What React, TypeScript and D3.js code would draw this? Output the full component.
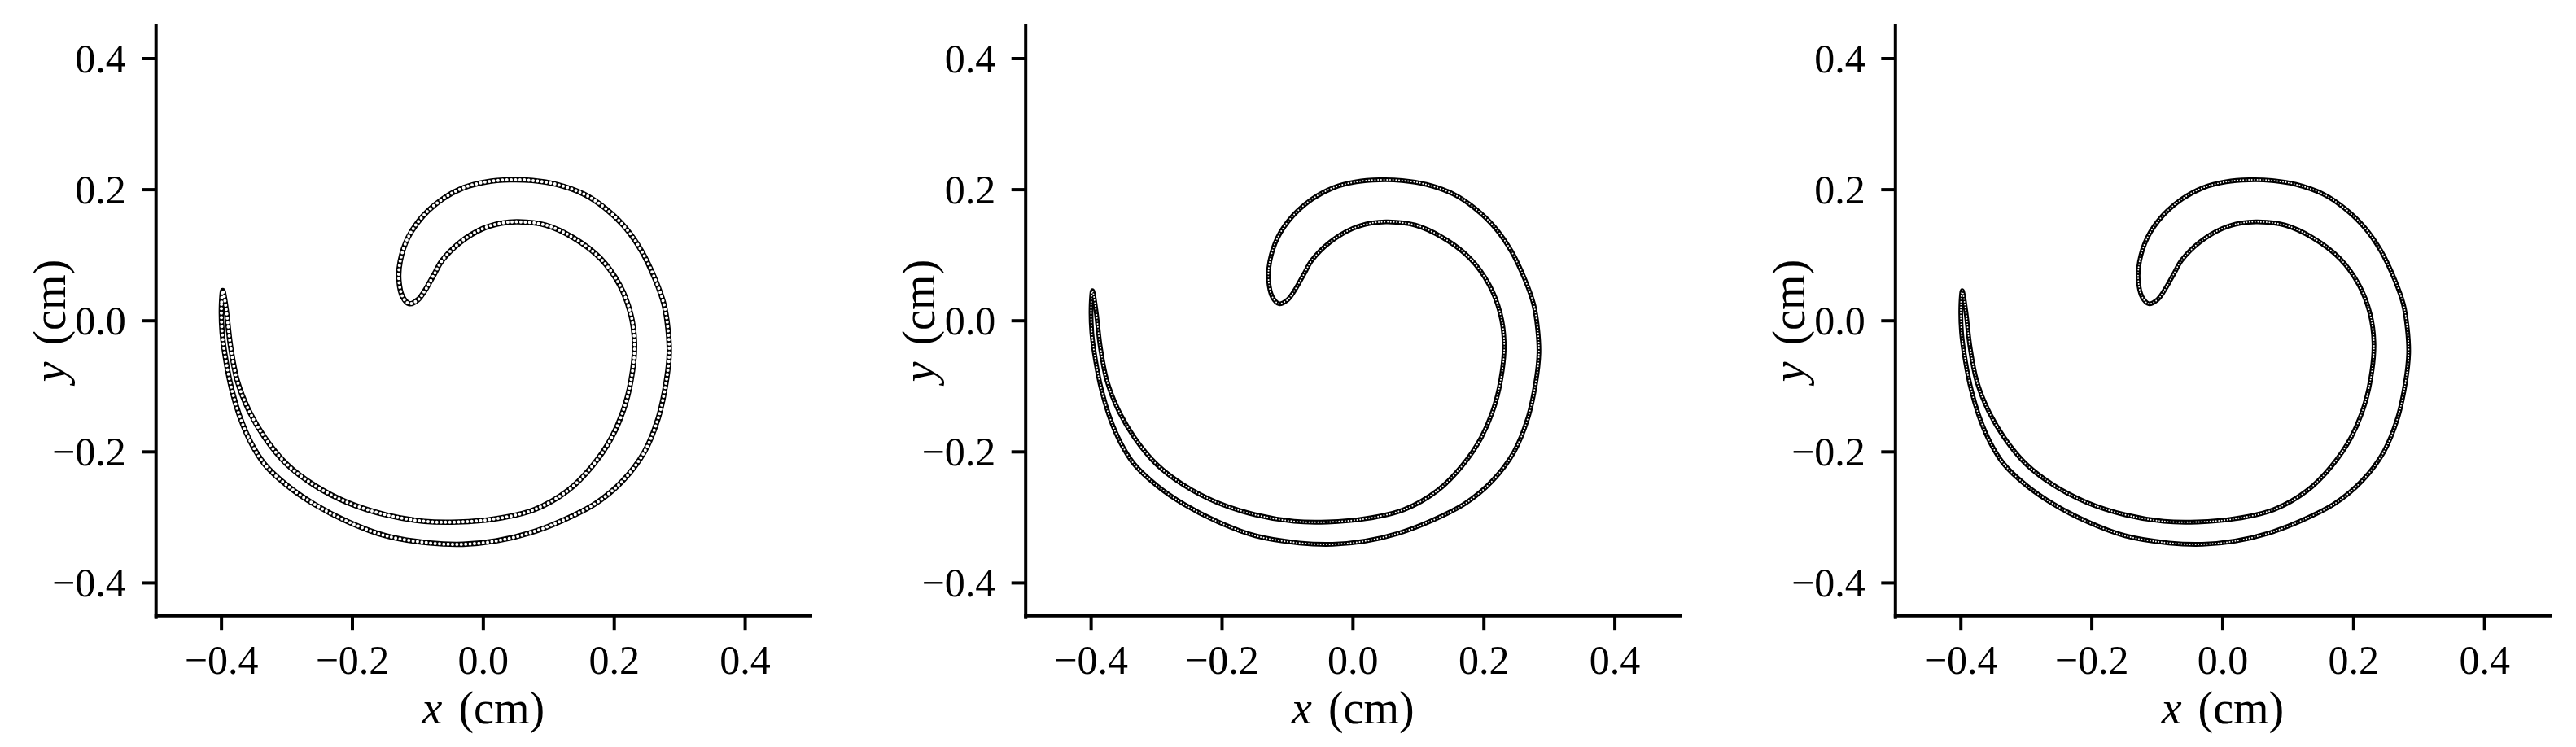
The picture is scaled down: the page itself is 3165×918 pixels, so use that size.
import React from "react";
import * as d3 from "d3";

// Closed material loop (x, y in cm), in order along the loop
const loopX = [
  -0.398, -0.4, -0.399, -0.393, -0.384, -0.371, -0.355, -0.334, -0.3, -0.258, -0.208, -0.149, -0.082,
  -0.031, 0.019, 0.07, 0.12, 0.171, 0.213, 0.246, 0.267, 0.279, 0.284, 0.282, 0.276, 0.263, 0.242,
  0.217, 0.187, 0.154, 0.112, 0.075, 0.04, 0.005, -0.03, -0.062, -0.092, -0.115, -0.127, -0.129,
  -0.123, -0.113, -0.1, -0.09, -0.075, -0.063, -0.035, 0.0, 0.028, 0.053, 0.095, 0.137, 0.179, 0.208,
  0.225, 0.231, 0.228, 0.217, 0.196, 0.166, 0.129, 0.078, 0.019, -0.039, -0.09, -0.149, -0.208,
  -0.258, -0.3, -0.334, -0.359, -0.376, -0.386, -0.392, -0.396,
];
const loopY = [
  0.046, 0.025, -0.018, -0.062, -0.106, -0.149, -0.186, -0.219, -0.251, -0.28, -0.306, -0.328, -0.339,
  -0.341, -0.336, -0.324, -0.305, -0.279, -0.244, -0.2, -0.149, -0.095, -0.05, -0.012, 0.025, 0.062,
  0.106, 0.142, 0.171, 0.193, 0.208, 0.214, 0.215, 0.212, 0.203, 0.186, 0.16, 0.127, 0.091, 0.062,
  0.036, 0.026, 0.032, 0.045, 0.071, 0.092, 0.12, 0.141, 0.149, 0.151, 0.146, 0.127, 0.095, 0.055,
  0.011, -0.033, -0.076, -0.127, -0.178, -0.222, -0.259, -0.288, -0.302, -0.307, -0.306, -0.296,
  -0.277, -0.251, -0.219, -0.178, -0.135, -0.091, -0.04, 0.011, 0.038,
];

const xTicks = [-0.4, -0.2, 0.0, 0.2, 0.4];
const yTicks = [-0.4, -0.2, 0.0, 0.2, 0.4];
const xDomain = [-0.5, 0.5];
const yDomain = [-0.45, 0.45];
const xLabel = "x";
const yLabel = "y";
const unitLabel = " (cm)";

const W = 3165;
const H = 918;
const panelLefts = [191.7, 1260.2, 2328.8];
const plotW = 804.3;
const plotTop = 31.7;
const plotBottom = 756.7;
const markerStyles = [
  { outer: 6.6, inner: 4.0, gap: 5.4 },
  { outer: 5.8, inner: 2.0, gap: 3.7 },
  { outer: 5.8, inner: 1.9, gap: 3.5 },
];

const FONT = "'Liberation Serif', 'DejaVu Serif', serif";
const fmt = d3.format(".1f");

function Panel({ left, style }: { left: number; style: { outer: number; inner: number; gap: number } }) {
  const x = d3.scaleLinear().domain(xDomain).range([left, left + plotW]);
  const y = d3.scaleLinear().domain(yDomain).range([plotBottom, plotTop]);
  const pts: [number, number][] = loopX.map((v, i) => [v, loopY[i]]);
  const line = d3
    .line<[number, number]>()
    .x((d) => x(d[0]))
    .y((d) => y(d[1]))
    .curve(d3.curveCatmullRomClosed.alpha(0.5));
  const path = line(pts) || "";
  const tickLen = 17.5;
  const sw = 4;
  const fs = 50;
  const lfs = 56;
  return (
    <g>
      <path d={path} fill="none" stroke="#000" strokeWidth={style.outer} strokeLinejoin="round" />
      <path
        d={path}
        fill="none"
        stroke="#fff"
        strokeWidth={style.inner}
        strokeLinecap="round"
        strokeDasharray={`0 ${style.gap}`}
      />
      {/* spines */}
      <line x1={left} x2={left} y1={plotTop} y2={plotBottom + sw / 2} stroke="#000" strokeWidth={sw} strokeLinecap="square" />
      <line x1={left} x2={left + plotW} y1={plotBottom} y2={plotBottom} stroke="#000" strokeWidth={sw} strokeLinecap="square" />
      {xTicks.map((t) => (
        <g key={"x" + t}>
          <line x1={x(t)} x2={x(t)} y1={plotBottom} y2={plotBottom + tickLen} stroke="#000" strokeWidth={sw} />
          <text x={x(t)} y={828} textAnchor="middle" fontSize={fs} fontFamily={FONT}>
            {fmt(t)}
          </text>
        </g>
      ))}
      {yTicks.map((t) => (
        <g key={"y" + t}>
          <line x1={left - tickLen} x2={left} y1={y(t)} y2={y(t)} stroke="#000" strokeWidth={sw} />
          <text x={left - 37} y={y(t) + 17} textAnchor="end" fontSize={fs} fontFamily={FONT}>
            {fmt(t)}
          </text>
        </g>
      ))}
      <text x={left + plotW / 2} y={889} textAnchor="middle" fontSize={lfs} fontFamily={FONT}>
        <tspan fontStyle="italic">{xLabel}</tspan>
        <tspan dx={6}>{unitLabel}</tspan>
      </text>
      <text
        transform={`translate(${left - 112},${(plotTop + plotBottom) / 2}) rotate(-90)`}
        textAnchor="middle"
        fontSize={lfs}
        fontFamily={FONT}
      >
        <tspan fontStyle="italic">{yLabel}</tspan>
        <tspan dx={6}>{unitLabel}</tspan>
      </text>
    </g>
  );
}

export default function App() {
  return (
    <div style={{ position: "absolute", left: 0, top: 0 }}>
      <svg width={W} height={H} style={{ display: "block", background: "#fff" }}>
        <rect width={W} height={H} fill="#fff" />
        {panelLefts.map((l, i) => (
          <Panel key={i} left={l} style={markerStyles[i]} />
        ))}
      </svg>
    </div>
  );
}
